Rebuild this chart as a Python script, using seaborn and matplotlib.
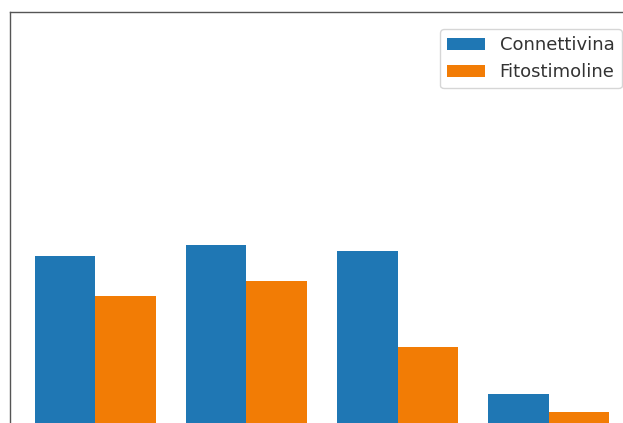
import matplotlib
matplotlib.use("Agg")
import matplotlib.pyplot as plt
import seaborn as sns
import pandas as pd

categories = ["A", "B", "C", "D"]
connettivina = [44.5, 47.0, 45.7, 13.2]
fitostimoline = [35.5, 38.9, 23.9, 9.1]
series_names = ["Connettivina", "Fitostimoline"]
colors = ["#1f77b4", "#f27c05"]

df = pd.DataFrame({
    "categoria": categories * 2,
    "valore": connettivina + fitostimoline,
    "serie": [series_names[0]] * len(categories) + [series_names[1]] * len(categories),
})

sns.set_style("white")
fig = plt.figure(figsize=(6.23, 4.23), dpi=100)
W, H = 623, 423
# axes extends beyond the figure (cropped view)
left_px, top_px, right_px, base_px = 10, 12, 640, 452
ax = fig.add_axes([left_px / W, (H - base_px) / H, (right_px - left_px) / W, (base_px - top_px) / H])

sns.barplot(data=df, x="categoria", y="valore", hue="serie", palette=colors,
            saturation=1, width=0.8, ax=ax, edgecolor="none", linewidth=0)

ax.set_ylim(0, 100)
ax.set_xlim(-0.562, 3.602)
ax.set_xlabel("")
ax.set_ylabel("")
ax.set_xticks([])
ax.set_yticks([])
for s in ["top", "left", "right", "bottom"]:
    ax.spines[s].set_visible(True)
    ax.spines[s].set_color("#555555")
    ax.spines[s].set_linewidth(1.0)

leg = ax.legend(loc="upper left", bbox_to_anchor=(440 / W, 1 - 29 / H),
                bbox_transform=fig.transFigure, borderaxespad=0,
                fontsize=13, handlelength=2.1, frameon=True, title=None)
leg.get_frame().set_edgecolor("#cccccc")
for t in leg.get_texts():
    t.set_color("#333333")

fig.savefig("out.png", dpi=100)
